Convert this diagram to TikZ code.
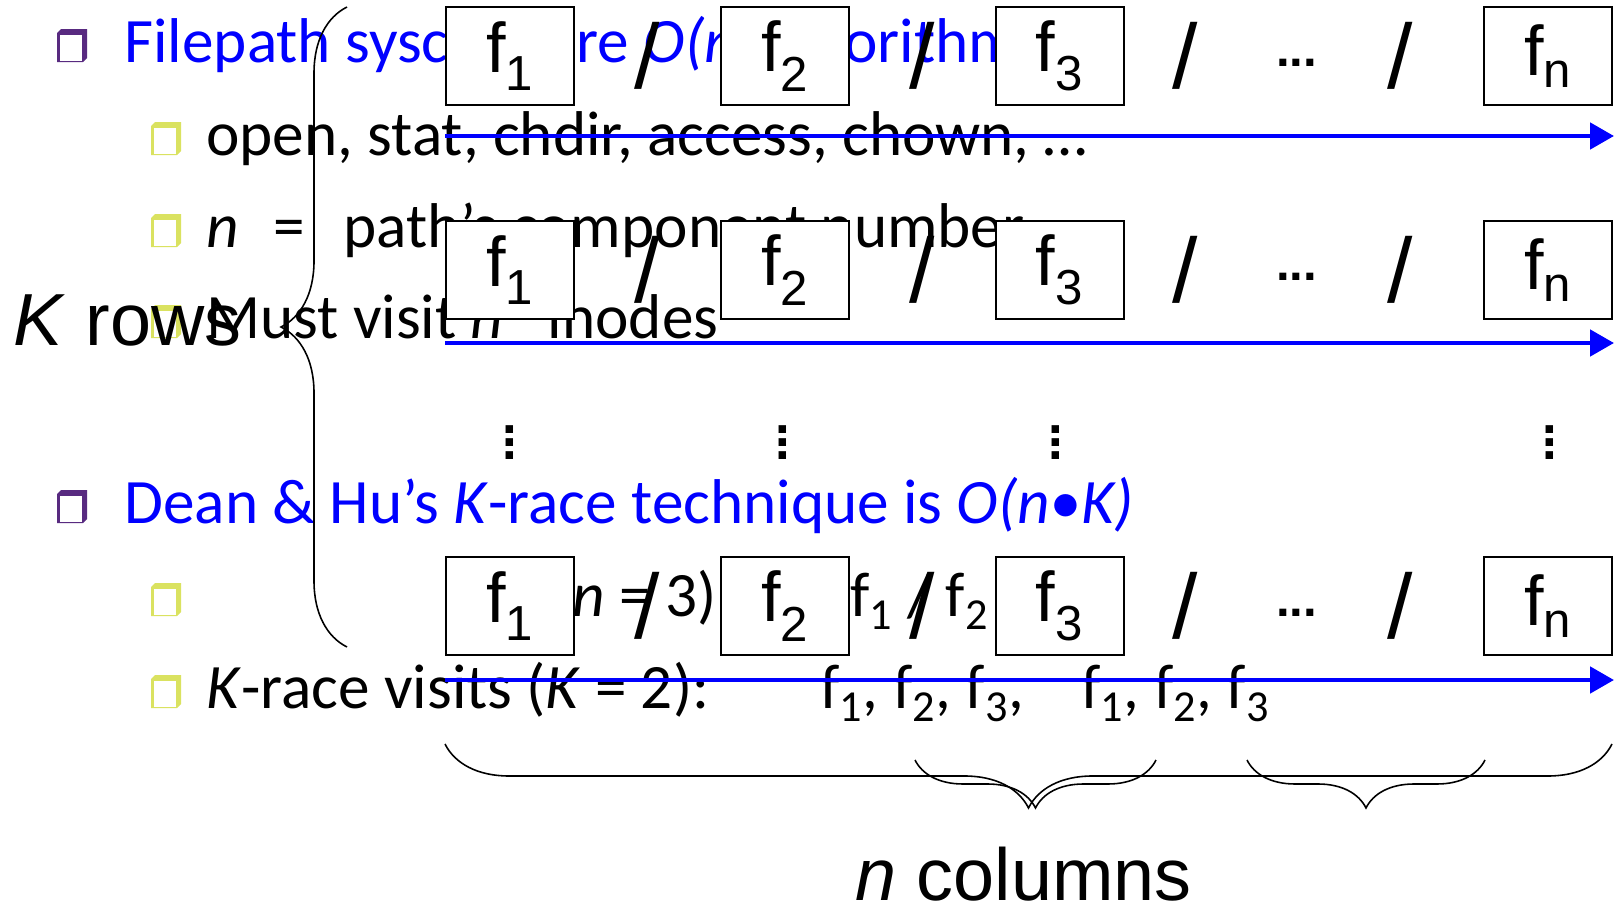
\documentclass[tikz,border=0pt]{standalone}
\usepackage{fontspec}
\setmainfont{Carlito}
\newfontfamily\handfont{Liberation Sans}
\usetikzlibrary{arrows.meta, positioning, decorations.pathreplacing}
\definecolor{slideblue}{RGB}{0,0,255}
\definecolor{slidepurple}{RGB}{88,42,128}
\definecolor{slidelime}{RGB}{218,226,96}

\begin{document}
\begin{tikzpicture}[
    x=0.02cm, y=-0.02cm,
    node distance=2.9cm,
    slide/.style={anchor=base west, inner sep=0pt, font=\fontsize{36}{40}\selectfont},
    fbox/.style={rectangle, draw, fill=white, line width=1.1pt, minimum width=2.56cm, minimum height=1.96cm, inner sep=0pt, font=\handfont\fontsize{40}{40}\selectfont},
    sep/.style={font=\handfont\fontsize{52}{52}\selectfont, inner sep=0pt},
    more/.style={font=\handfont\bfseries\fontsize{28}{28}\selectfont, inner sep=0pt, yshift=-4pt},
    colmore/.style={font=\handfont\bfseries\fontsize{30}{7.4}\selectfont, align=center, inner sep=0pt},
    visit/.style={draw=slideblue, line width=2.6pt, -{Triangle[length=13.6pt, width=14.8pt]}},
    brace/.style={decorate, line width=0.9pt, decoration={brace, amplitude=#1}},
    bigtext/.style={font=\handfont\fontsize{42}{42}\selectfont, inner sep=0pt, anchor=base west},
    pics/bul/.style={code={
      \fill[#1] (0,4) -- (4,0) -- (30,0) -- (30,29) -- (26,33) -- (0,33) -- cycle;
      \fill[white] (3,6) rectangle (25,32);
    }}
  ]
    \useasboundingbox (0,0) rectangle (1614,916);

    % slide text underneath
    \pic at (57,29) {bul=slidepurple};
    \node[slide, text=slideblue] (t1) at (124,62) {Filepath syscalls are \textit{O(n)} algorithms};
    \pic at (151,122) {bul=slidelime};
    \node[slide] (t2) at (206,155) {open, stat, chdir, access, chown, …};
    \pic at (151,214) {bul=slidelime};
    \node[slide] (t3) at (206,247) {\textit{n}\hspace{0.55em}=\hspace{0.6em}path’s component number};
    \pic at (151,305) {bul=slidelime};
    \node[slide] (t4) at (206,338) {Must visit \textit{n}\hspace{0.7em}inodes};
    \pic at (57,490) {bul=slidepurple};
    \node[slide, text=slideblue] (t5) at (124,523) {Dean \& Hu’s \textit{K}-race technique is \textit{O(n•K)}};
    \pic at (151,583) {bul=slidelime};
    \node[slide, anchor=base east] (t6) at (717,616) {(\textit{n} = 3)};
    \node[slide] (t7) at (850,616) {f\textsubscript{1} / f\textsubscript{2} / f\textsubscript{3}};
    \pic at (151,675) {bul=slidelime};
    \node[slide] (t8) at (206,708) {\textit{K}-race visits (\textit{K} = 2):};
    \node[slide] (t9) at (820,708) {f\textsubscript{1}, f\textsubscript{2}, f\textsubscript{3},};
    \node[slide] (t10) at (1081,708) {f\textsubscript{1}, f\textsubscript{2}, f\textsubscript{3}};

    % the K rows of path components
    \foreach \r/\ry/\ay in {1/56/136, 2/270/343, 3/606/680} {
      \node[fbox] (a\r) at (510,\ry) {f\textsubscript{1}};
      \node[fbox, right=of a\r] (b\r) {f\textsubscript{2}};
      \node[fbox, right=of b\r] (c\r) {f\textsubscript{3}};
      \node[fbox] (d\r) at (1548,\ry) {f\textsubscript{n}};
      \path (a\r) -- node[sep] (s1\r) {/} (b\r);
      \path (b\r) -- node[sep] (s2\r) {/} (c\r);
      \path (c\r) -- node[sep, pos=0.17] (s3\r) {/} (d\r);
      \path (c\r) -- node[more, pos=0.48] (m\r) {...} (d\r);
      \path (c\r) -- node[sep, pos=0.77] (s4\r) {/} (d\r);
      \coordinate (v\r) at (445,\ay);
      \coordinate (w\r) at (1614,\ay);
      \draw[visit] (v\r) -- (w\r);
    }
    \foreach \x [count=\i] in {510,783,1056,1550}
      \node[colmore] (k\i) at (\x,443) {.\\.\\.};

    % braces
    \coordinate (kt) at (347,7);
    \coordinate (kb) at (347,647);
    \draw[brace=1.32cm] (kb) -- (kt);
    \coordinate (nl) at (445,744);
    \coordinate (nr) at (1612,744);
    \draw[brace=1.28cm] (nr) -- (nl);
    \coordinate (p1l) at (915,760);
    \coordinate (p1r) at (1156,760);
    \draw[brace=0.96cm] (p1r) -- (p1l);
    \coordinate (p2l) at (1247,760);
    \coordinate (p2r) at (1485,760);
    \draw[brace=0.96cm] (p2r) -- (p2l);

    \node[bigtext] (krows) at (13,345) {\textit{K} rows};
    \node[bigtext] (ncols) at (855,900) {\textit{n} columns};
\end{tikzpicture}
\end{document}
